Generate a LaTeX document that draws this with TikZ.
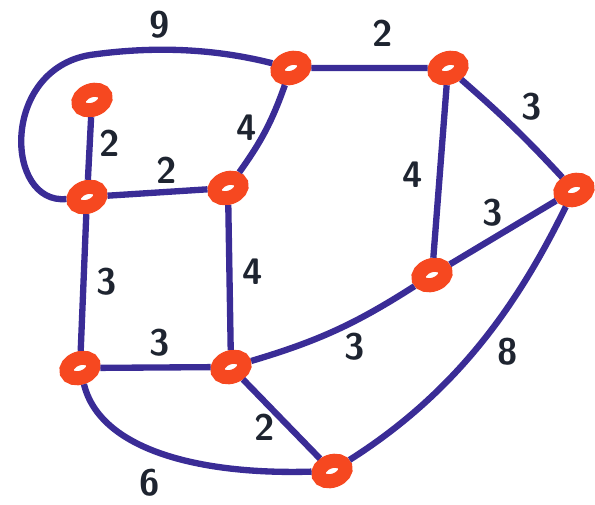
\documentclass[tikz,border=0pt]{standalone}
\usepackage{tikz}
\usetikzlibrary{shapes.geometric}
\definecolor{ringRed}{RGB}{246, 72, 32}
\definecolor{edgeBlue}{RGB}{58, 44, 150}
\definecolor{inkGray}{RGB}{30, 36, 48}

\begin{document}
\begin{tikzpicture}[x=0.02cm, y=-0.02cm,
    vertex/.style={ellipse, draw=ringRed, line width=8pt, fill=white,
      minimum width=16pt, minimum height=11pt, inner sep=0pt, rotate=20},
    link/.style={draw=edgeBlue, line width=3.6pt},
    weight/.style={text=inkGray, font=\fontsize{21}{24}\selectfont\sffamily\bfseries}]
  \useasboundingbox (0,0) rectangle (595,504);

  % Vertices
  \node[vertex] (a) at (92, 100) {};
  \node[vertex] (b) at (87, 197) {};
  \node[vertex] (c) at (291, 68) {};
  \node[vertex] (d) at (448, 68) {};
  \node[vertex] (e) at (228, 188) {};
  \node[vertex] (f) at (574, 190) {};
  \node[vertex] (g) at (432, 275) {};
  \node[vertex] (h) at (80, 368) {};
  \node[vertex] (i) at (231, 367) {};
  \node[vertex] (j) at (332, 471) {};

  % Edges
  \draw[link] (b) .. controls (5, 205) and (0, 70) .. (90, 55)
    .. controls (160, 45) and (220, 50) .. (c);
  \draw[link] (a) -- (b);
  \draw[link] (b) -- (e);
  \draw[link] (c) -- (d);
  \draw[link] (c) to[bend left=8] (e);
  \draw[link] (d) to[bend left=3] (f);
  \draw[link] (d) -- (g);
  \draw[link] (g) -- (f);
  \draw[link] (b) -- (h);
  \draw[link] (e) -- (i);
  \draw[link] (h) -- (i);
  \draw[link] (i) to[bend right=8] (g);
  \draw[link] (i) -- (j);
  \draw[link] (h) .. controls (100, 450) and (200, 475) .. (j);
  \draw[link] (f) .. controls (520, 300) and (460, 390) .. (j);

  % Weights
  \node[weight] (w9) at (160, 25) {9};
  \node[weight] (wab) at (110, 143) {2};
  \node[weight] (wbe) at (167, 170) {2};
  \node[weight] (wce) at (247, 128) {4};
  \node[weight] (wcd) at (383, 33) {2};
  \node[weight] (wdf) at (532, 107) {3};
  \node[weight] (wdg) at (413, 175) {4};
  \node[weight] (wgf) at (493, 213) {3};
  \node[weight] (wbh) at (107, 282) {3};
  \node[weight] (wei) at (253, 272) {4};
  \node[weight] (whi) at (160, 343) {3};
  \node[weight] (wig) at (355, 347) {3};
  \node[weight] (wij) at (265, 427) {2};
  \node[weight] (whj) at (150, 483) {6};
  \node[weight] (wfj) at (508, 352) {8};
\end{tikzpicture}
\end{document}
